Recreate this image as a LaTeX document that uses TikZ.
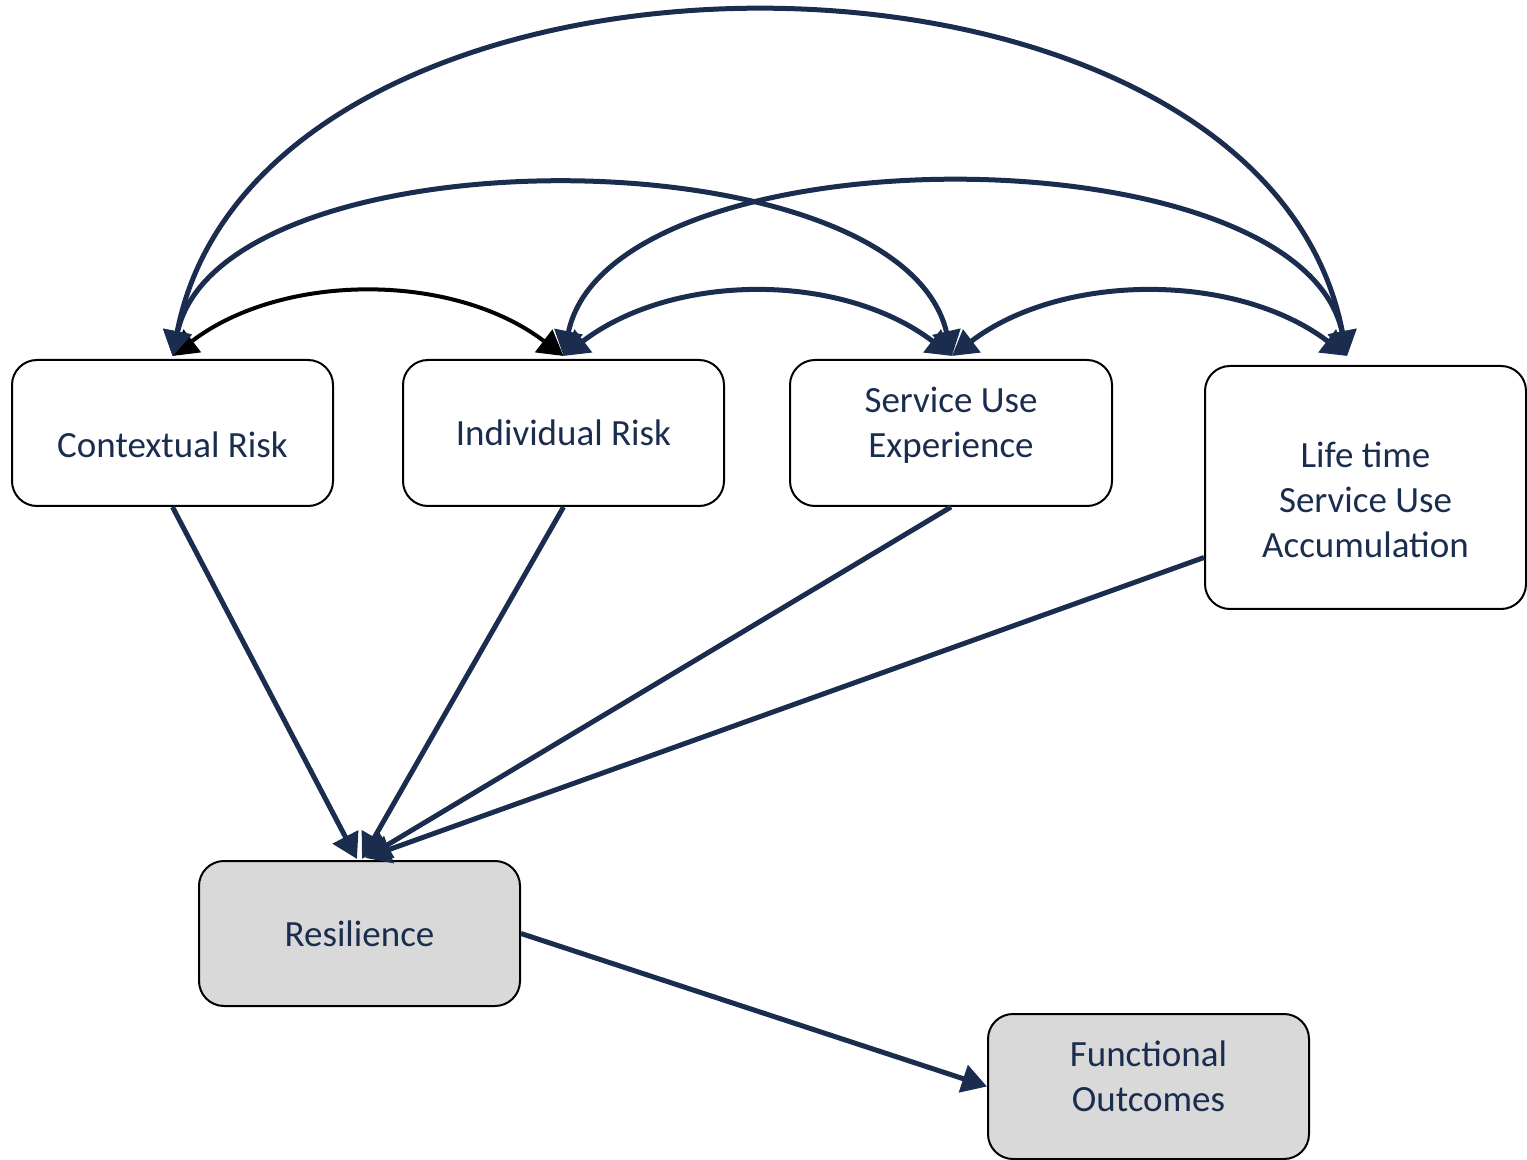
\documentclass[tikz,border=0pt]{standalone}
\usepackage{fontspec}
\setmainfont{Carlito}
\usetikzlibrary{arrows.meta,calc}
\definecolor{navy}{RGB}{27,45,78}
\definecolor{boxgray}{RGB}{217,217,217}
\begin{document}
\begin{tikzpicture}[x=0.5pt,y=-0.5pt,
  >={Triangle[length=12.5pt,width=14pt]},
  box/.style={draw=black,line width=1pt,rounded corners=12.5pt,
    minimum width=160.5pt,minimum height=73pt,inner sep=0pt},
  lbl/.style={align=center,text=navy,inner sep=0pt,
    font=\fontsize{18.5pt}{22.5pt}\selectfont},
  outcome/.style={box,fill=boxgray},
  link/.style={draw=navy,line width=2.5pt,->},
  bilink/.style={draw=navy,line width=2.5pt,<->},
  bilinkblack/.style={draw=black,line width=2pt,<->}]
\useasboundingbox (0,0) rectangle (1527,1160);

% factor boxes
\node[box,label={[lbl,yshift=-6pt]center:Contextual Risk}] (C) at (172.5,433) {};
\node[box,label={[lbl]center:Individual Risk}] (I) at (563.5,433) {};
\node[box,minimum width=161pt,label={[lbl,yshift=4pt]center:Service Use\\Experience}] (S) at (951,433) {};
\node[box,minimum height=121.5pt,label={[lbl,yshift=-6pt]center:Life time\\Service Use\\Accumulation}] (L) at (1365.5,487.5) {};
\node[outcome,minimum height=72.5pt,label={[lbl]center:Resilience}] (R) at (359.5,933.5) {};
\node[outcome,minimum height=72.5pt,label={[lbl,yshift=5pt]center:Functional\\Outcomes}] (F) at (1148.5,1086.5) {};

% attachment points on the top edges
\coordinate (Ct) at ([yshift=1.5pt]C.north);
\coordinate (It) at ([yshift=1.5pt]I.north);
\coordinate (St) at ([xshift=0.5pt,yshift=1.5pt]S.north);
\coordinate (Lt) at ([xshift=-9.25pt,yshift=4.5pt]L.north);

% correlations between the factors
\draw[bilinkblack] (Ct) .. controls +(110,-84) and +(-110,-84) .. (It);
\draw[bilink] (It) .. controls +(110,-84) and +(-110,-84) .. (St);
\draw[bilink] (St) .. controls +(110,-84) and +(-110,-84) .. (Lt);
\draw[bilink] (Ct) .. controls +(48,-226) and +(-52,-226) .. (St);
\draw[bilink] (It) .. controls +(47,-228) and +(-47,-228) .. (Lt);
\draw[bilink] (Ct) .. controls +(88,-456) and +(-87,-456) .. (Lt);

% paths into resilience
\draw[link] (C.south) -- ([xshift=-1.25pt,yshift=0.5pt]R.north);
\draw[link] (I.south) -- ([xshift=1.25pt,yshift=0.5pt]R.north);
\draw[link] (S.south) -- ([xshift=3pt,yshift=1pt]R.north);
\draw[link] ([yshift=-35pt]L.west) -- ([xshift=3pt,yshift=1pt]R.north);

% resilience to outcomes
\draw[link] (R.east) -- (F.west);
\end{tikzpicture}
\end{document}
